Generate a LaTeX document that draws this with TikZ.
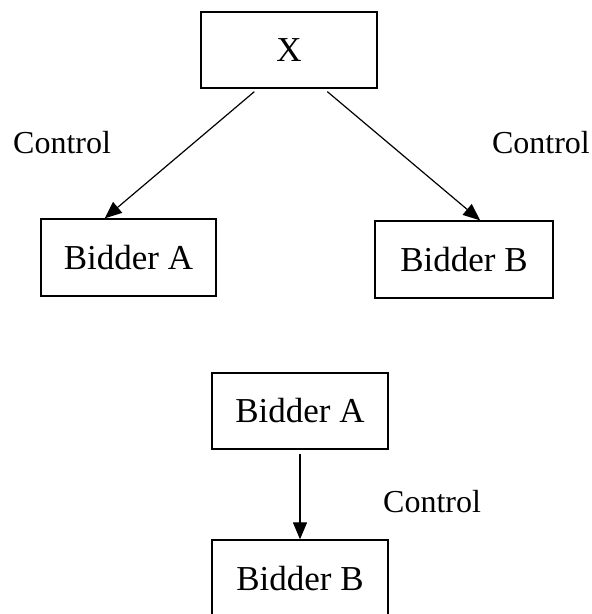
\documentclass[tikz,border=0pt]{standalone}
\usepackage{fontspec}
\setmainfont{Liberation Serif}
\usetikzlibrary{arrows.meta,calc}

\tikzset{
  entity/.style={draw=black, line width=1.3pt, inner sep=0pt,
    minimum width=176pt, minimum height=77pt,
    font=\fontsize{35}{40}\selectfont},
  ctrl/.style={inner sep=0pt, font=\fontsize{32}{36}\selectfont},
  link/.style={line width=1.2pt, -{Triangle[length=17pt,width=14pt]}}
}

\begin{document}
\begin{tikzpicture}[x=1pt, y=-1pt]
  \useasboundingbox (0,0) rectangle (592,614);

  % upper structure: X controls both bidders
  \node[entity, minimum height=76pt] (X) at (289,50) {X};
  \node[entity, minimum width=175pt] (ba) at (128.5,257.5) {Bidder A};
  \node[entity, minimum width=178pt] (bb) at (464,259.5) {Bidder B};

  \coordinate (xl) at ($(X.south west)+(54,3)$);
  \coordinate (xr) at ($(X.south west)+(127,3)$);
  \coordinate (tl) at ($(ba.north west)!0.365!(ba.north east)$);
  \coordinate (tr) at ($(bb.north west)!0.59!(bb.north east)$);

  \draw[link] (xl) -- (tl);
  \draw[link] (xr) -- (tr);

  \node[ctrl, anchor=base west] (cl) at (13,153) {Control};
  \node[ctrl, anchor=base east] (cr) at (590,153) {Control};

  % lower structure: bidder A controls bidder B
  \node[entity, minimum height=76pt] (la) at (300,411) {Bidder A};
  \node[entity] (lb) at (300,578.5) {Bidder B};

  \draw[link] ($(la.south)+(0,4)$) -- (lb.north);

  \node[ctrl, anchor=base west] (cb) at (383,512) {Control};
\end{tikzpicture}
\end{document}
